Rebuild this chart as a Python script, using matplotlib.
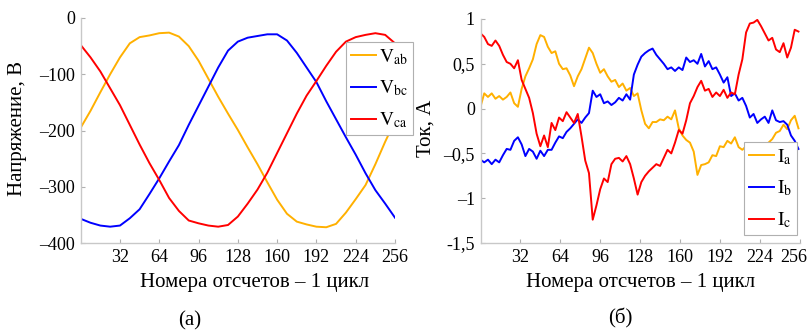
import numpy as np
import matplotlib
matplotlib.use("Agg")
import matplotlib.pyplot as plt
import matplotlib.transforms as mtrans

plt.rcParams['font.family'] = ['Liberation Serif', 'DejaVu Serif']
plt.rcParams['mathtext.fontset'] = 'stix'

# ---------------- data ----------------
v_step = 8
Vab = [-195, -165, -132, -100, -70, -45, -34, -31, -27, -26, -33, -50, -76, -108,
       -140, -170, -199, -230, -260, -292, -323, -348, -362, -367, -371, -372, -366,
       -346, -322, -297, -260, -220, -183]
Vbc = [-357, -364, -369, -371, -369, -356, -340, -313, -285, -255, -226, -190, -156,
       -122, -88, -58, -42, -35, -32, -29, -29, -40, -62, -88, -114, -148, -180, -212,
       -243, -276, -306, -330, -355]
Vca = [-48, -70, -95, -125, -155, -190, -225, -258, -288, -320, -343, -360, -365, -369,
       -371, -368, -353, -330, -305, -275, -240, -205, -170, -138, -112, -85, -60, -42,
       -34, -30, -27, -30, -45]

i_step = 3
Ia = [0.02, 0.17, 0.13, 0.17, 0.11, 0.14, 0.10, 0.13, 0.18, 0.06, 0.02, 0.22, 0.36, 0.45,
      0.55, 0.72, 0.82, 0.80, 0.69, 0.62, 0.64, 0.50, 0.44, 0.45, 0.37, 0.25, 0.36, 0.44,
      0.56, 0.68, 0.62, 0.50, 0.40, 0.44, 0.36, 0.30, 0.32, 0.24, 0.28, 0.20, 0.23, 0.14,
      0.17, -0.02, -0.17, -0.22, -0.15, -0.15, -0.12, -0.13, -0.09, -0.12, -0.02, -0.22,
      -0.30, -0.35, -0.38, -0.48, -0.74, -0.63, -0.62, -0.60, -0.52, -0.53, -0.42, -0.43,
      -0.36, -0.39, -0.32, -0.43, -0.46, -0.42, -0.45, -0.40, -0.44, -0.42, -0.40, -0.38,
      -0.34, -0.27, -0.25, -0.18, -0.23, -0.13, -0.08, -0.22]
Ib = [-0.57, -0.60, -0.57, -0.62, -0.57, -0.60, -0.52, -0.45, -0.46, -0.36, -0.32, -0.40,
      -0.53, -0.45, -0.48, -0.56, -0.47, -0.53, -0.46, -0.46, -0.38, -0.31, -0.33, -0.26,
      -0.22, -0.17, -0.12, -0.16, -0.10, -0.05, 0.20, 0.13, 0.16, 0.06, 0.08, 0.04, 0.07,
      0.12, 0.09, 0.16, 0.10, 0.38, 0.49, 0.58, 0.62, 0.65, 0.67, 0.60, 0.55, 0.50, 0.44,
      0.46, 0.42, 0.46, 0.43, 0.57, 0.52, 0.54, 0.50, 0.61, 0.47, 0.53, 0.44, 0.46, 0.38,
      0.29, 0.35, 0.14, 0.17, 0.09, 0.12, 0.03, -0.10, -0.06, -0.16, -0.12, -0.09, -0.16,
      -0.02, -0.13, -0.15, -0.14, -0.18, -0.30, -0.36, -0.45]
Ic = [0.84, 0.80, 0.72, 0.70, 0.76, 0.70, 0.60, 0.52, 0.50, 0.45, 0.54, 0.32, 0.22, 0.12,
      -0.05, -0.28, -0.42, -0.30, -0.43, -0.16, -0.24, -0.10, -0.14, -0.04, -0.10, -0.16,
      -0.06, -0.31, -0.58, -0.72, -1.24, -1.08, -0.90, -0.78, -0.82, -0.62, -0.56, -0.55,
      -0.59, -0.53, -0.62, -0.78, -0.96, -0.82, -0.75, -0.70, -0.66, -0.62, -0.64, -0.55,
      -0.46, -0.50, -0.38, -0.24, -0.28, -0.13, 0.06, 0.14, 0.24, 0.31, 0.20, 0.22, 0.13,
      0.18, 0.14, 0.21, 0.12, 0.18, 0.16, 0.38, 0.55, 0.85, 0.95, 0.96, 0.99, 0.92, 0.84,
      0.76, 0.79, 0.66, 0.63, 0.73, 0.57, 0.68, 0.88, 0.86]

x_ticks = [32, 64, 96, 128, 160, 192, 224, 256]
v_yticks = [0, -100, -200, -300, -400]
v_yticklabels = ['0', '\u2013100', '\u2013200', '\u2013300', '\u2013400']
i_yticks = [1, 0.5, 0, -0.5, -1, -1.5]
i_yticklabels = ['1', '0,5', '0', '\u20130,5', '\u20131', '-1,5']

xlabel = 'Номера отсчетов \u2013 1 цикл'
v_ylabel = 'Напряжение, В'
i_ylabel = 'Ток, А'
v_names = [r'$\mathrm{V_{ab}}$', r'$\mathrm{V_{bc}}$', r'$\mathrm{V_{ca}}$']
i_names = [r'$\mathrm{I_{a}}$', r'$\mathrm{I_{b}}$', r'$\mathrm{I_{c}}$']
panel_labels = ['(а)', '(б)']

colors = ['#FFB000', '#0000FF', '#FF0000']

# ---------------- figure ----------------
W, H = 808, 331
fig = plt.figure(figsize=(W / 100, H / 100), dpi=100)

def fx(px):
    return px / W

def fy(py):
    return 1 - py / H

ax1 = fig.add_axes([fx(80.7), fy(243), fx(395 - 80.7), (243 - 18) / H])
ax2 = fig.add_axes([fx(480.5), fy(243), fx(799.7 - 480.5), (243 - 19) / H])

xv = np.arange(len(Vab)) * v_step
for y, c, n in zip([Vab, Vbc, Vca], colors, v_names):
    ax1.plot(xv, y, color=c, lw=1.4, label=n)
xi = np.arange(len(Ia)) * i_step
for y, c, n in zip([Ia, Ib, Ic], colors, i_names):
    ax2.plot(xi, y, color=c, lw=1.4, label=n)

ax1.set_xlim(0, 256)
ax1.set_ylim(-400, 0)
ax2.set_xlim(0, 256)
ax2.set_ylim(-1.5, 1)

for ax, yt, ytl in [(ax1, v_yticks, v_yticklabels), (ax2, i_yticks, i_yticklabels)]:
    ax.set_xticks(x_ticks)
    ax.set_xticklabels([str(t) for t in x_ticks])
    ax.set_yticks(yt)
    ax.set_yticklabels(ytl)
    for s in ['top', 'right']:
        ax.spines[s].set_visible(False)
    for s in ['left', 'bottom']:
        ax.spines[s].set_color('#c8c8c8')
        ax.spines[s].set_linewidth(1.0)
    ax.tick_params(direction='in', length=3, width=0.8, color='#b0b0b0',
                   labelsize=13, labelcolor='black', pad=4)

# shift the last x tick label of the right panel slightly left (stays inside figure)
last = ax2.get_xticklabels()[-1]
last.set_transform(last.get_transform() +
                   mtrans.ScaledTranslation(-6 / 100, 0, fig.dpi_scale_trans))

leg_kw = dict(loc='upper left', bbox_transform=fig.transFigure, fontsize=14,
              frameon=True, fancybox=False, framealpha=1, edgecolor='#b0b0b0',
              handlelength=1.3, handletextpad=0.15, labelspacing=0.62,
              borderpad=0.25, borderaxespad=0)
l1 = ax1.legend(bbox_to_anchor=(fx(346), fy(42)), **leg_kw)
l2 = ax2.legend(bbox_to_anchor=(fx(744), fy(142)), **leg_kw)
for l in (l1, l2):
    l.get_frame().set_linewidth(0.8)
    l.set_clip_on(False)
    l.set_zorder(10)
ax1.set_zorder(3)

fig.text(fx(255), fy(283), xlabel, ha='center', va='center', fontsize=15)
fig.text(fx(641), fy(283), xlabel, ha='center', va='center', fontsize=15)
fig.text(fx(18), fy(128), v_ylabel, ha='center', va='center', rotation=90, fontsize=15)
fig.text(fx(426), fy(128), i_ylabel, ha='center', va='center', rotation=90, fontsize=15)
fig.text(fx(190), fy(321), panel_labels[0], ha='center', va='center', fontsize=15)
fig.text(fx(620), fy(318), panel_labels[1], ha='center', va='center', fontsize=15)

fig.savefig('out.png', dpi=100)
